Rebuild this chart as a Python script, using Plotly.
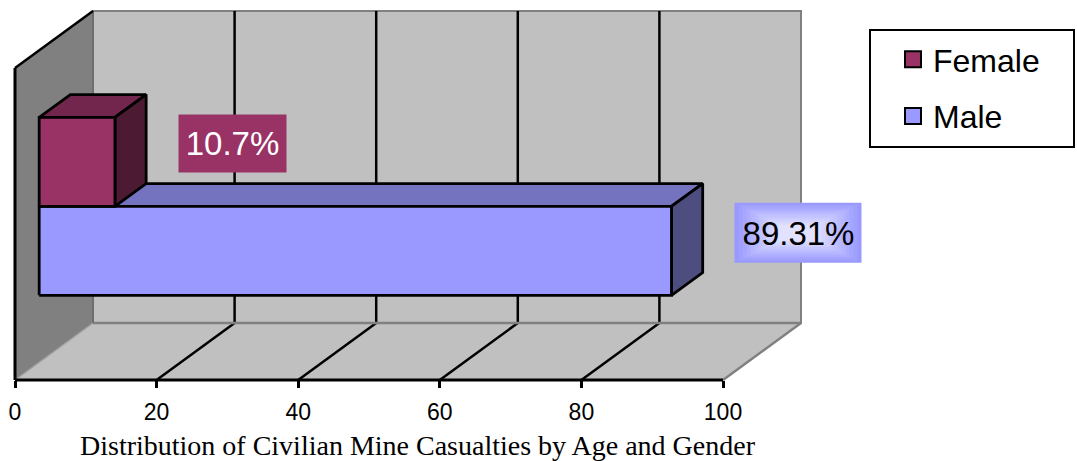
import plotly.graph_objects as go

# ---------------- data ----------------
categories = ["Female", "Male"]
values = [10.7, 89.31]
value_labels = ["10.7%", "89.31%"]
tick_values = [0, 20, 40, 60, 80, 100]
tick_labels = ["0", "20", "40", "60", "80", "100"]
title_text = "Distribution of Civilian Mine Casualties by Age and Gender"

# ---------------- styling / geometry ----------------
front_colors = {"Female": "#993366", "Male": "#9999FF"}
top_colors = {"Female": "#73264D", "Male": "#7373BF"}
side_colors = {"Female": "#4D1A33", "Male": "#4D4D80"}

W, H = 1077, 461
AX0, AX1 = 15, 723          # pixel of value 0 and value 100 on the front axis
BASE_PX = 380               # pixel row of the front floor edge
VMAX = 100
SCALE = (AX1 - AX0) / VMAX  # px per value unit
x_lo = -AX0 / SCALE
x_hi = x_lo + W / SCALE
y_lo = -(H - BASE_PX)
y_hi = BASE_PX
WALL_H = 312
DEPTH_DX = 78 / SCALE
DEPTH_DY = 57
D0, D1 = 0.31, 0.71
BAR_T = 89
CENTER = WALL_H / 2


def P(v, y, d):
    return (v + d * DEPTH_DX, y + d * DEPTH_DY)


def closed(pts):
    xs = [p[0] for p in pts] + [pts[0][0]]
    ys = [p[1] for p in pts] + [pts[0][1]]
    return xs, ys


fig = go.Figure()


def add_poly(pts, fill, line_color=None, line_width=0):
    xs, ys = closed(pts)
    fig.add_trace(go.Scatter(
        x=xs, y=ys, mode="lines", fill="toself", fillcolor=fill,
        line=dict(color=line_color or fill, width=line_width),
        showlegend=False, hoverinfo="skip"))


def add_line(p, q, color, width):
    fig.add_trace(go.Scatter(
        x=[p[0], q[0]], y=[p[1], q[1]], mode="lines",
        line=dict(color=color, width=width),
        showlegend=False, hoverinfo="skip"))


vmin, vmax = tick_values[0], tick_values[-1]

# back wall
add_poly([P(vmin, 0, 1), P(vmax, 0, 1), P(vmax, WALL_H, 1), P(vmin, WALL_H, 1)],
         "#C0C0C0", "#808080", 2)
# floor
add_poly([P(vmin, 0, 0), P(vmax, 0, 0), P(vmax, 0, 1), P(vmin, 0, 1)], "#C0C0C0")
# left wall
add_poly([P(vmin, 0, 0), P(vmin, WALL_H, 0), P(vmin, WALL_H, 1), P(vmin, 0, 1)], "#808080")

# gridlines
for t in tick_values[1:-1]:
    add_line(P(t, 0, 1), P(t, WALL_H, 1), "black", 2.5)
    add_line(P(t, 0, 0), P(t, 0, 1), "black", 2.5)

# edges
add_line(P(vmin, 0, 1), P(vmax, 0, 1), "#808080", 2.5)
add_line(P(vmin, 0, 1), P(vmin, WALL_H, 1), "#6E6E6E", 2)
add_line(P(vmax, 0, 0), P(vmax, 0, 1), "#808080", 2.5)
add_line(P(vmin, 0, 0), P(vmin, 0, 1), "#A0A0A0", 1.5)
add_line(P(vmin, WALL_H, 0), P(vmin, WALL_H, 1), "black", 2.5)
add_line(P(vmin, 0, 0), P(vmin, WALL_H, 0), "black", 3)
add_line(P(vmin, 0, 0), P(vmax, 0, 0), "black", 3)

# bars (draw lower bar first)
bar_rows = {}
for i, cat in enumerate(categories):
    if i == 0:
        yb, yt = CENTER, CENTER + BAR_T
    else:
        yb, yt = CENTER - BAR_T, CENTER
    bar_rows[cat] = (yb, yt)

for cat in reversed(categories):
    v = values[categories.index(cat)]
    yb, yt = bar_rows[cat]
    add_poly([P(0, yt, D0), P(v, yt, D0), P(v, yt, D1), P(0, yt, D1)],
             top_colors[cat], "black", 2.8)
    add_poly([P(v, yb, D0), P(v, yb, D1), P(v, yt, D1), P(v, yt, D0)],
             side_colors[cat], "black", 2.8)
    add_poly([P(0, yb, D0), P(v, yb, D0), P(v, yt, D0), P(0, yt, D0)],
             front_colors[cat], "black", 2.8)

# legend entries
for cat in categories:
    fig.add_trace(go.Scatter(
        x=[None], y=[None], mode="markers", name=cat, legendgroup=cat,
        marker=dict(symbol="square", size=16, color=front_colors[cat],
                    line=dict(color="black", width=2))))

# data labels
annotations = []
shapes = []
label_boxes = {"Female": (107, 57), "Male": (127, 60)}
for i, cat in enumerate(categories):
    v = values[i]
    yb, yt = bar_rows[cat]
    lx = v + D0 * DEPTH_DX + 63 / SCALE
    ly = (yb + yt) / 2 + D0 * DEPTH_DY + 18
    bw, bh = label_boxes[cat]
    if cat == "Male":
        n = 12
        c0 = (153, 153, 255)
        c1 = (226, 226, 255)
        for k in range(n):
            f = k / (n - 1)
            col = "rgb(%d,%d,%d)" % tuple(round(a + (b - a) * f) for a, b in zip(c0, c1))
            sx = k * 4.0
            sy = k * 2.0
            shapes.append(dict(
                type="rect", xref="x", yref="y", xsizemode="pixel", ysizemode="pixel",
                xanchor=lx, yanchor=ly, x0=sx, x1=bw - sx, y0=-bh / 2 + sy, y1=bh / 2 - sy,
                fillcolor=col, line=dict(width=0), layer="above"))
        annotations.append(dict(
            x=lx, y=ly, xref="x", yref="y", xanchor="left", yanchor="middle",
            text=value_labels[i], showarrow=False, width=bw, height=bh, borderpad=0,
            bgcolor="rgba(0,0,0,0)",
            font=dict(family="Liberation Sans, Arial", size=33, color="black")))
    else:
        annotations.append(dict(
            x=lx, y=ly, xref="x", yref="y", xanchor="left", yanchor="middle",
            text=value_labels[i], showarrow=False, width=bw, height=bh, borderpad=0,
            bgcolor=front_colors[cat],
            font=dict(family="Liberation Sans, Arial", size=33, color="white")))

annotations.append(dict(
    x=418 / W, y=(H - 445) / H, xref="paper", yref="paper",
    xanchor="center", yanchor="middle", text=title_text, showarrow=False,
    font=dict(family="Liberation Serif, Times New Roman", size=28, color="black")))

# legend frame
shapes.append(dict(type="rect", xref="paper", yref="paper",
                   x0=870 / W, x1=1074 / W, y0=1 - 147 / H, y1=1 - 30 / H,
                   line=dict(color="black", width=2), fillcolor="white", layer="above"))

fig.update_layout(
    width=W, height=H,
    margin=dict(l=0, r=0, t=0, b=0),
    paper_bgcolor="white", plot_bgcolor="white",
    showlegend=True,
    legend=dict(x=893 / W, y=1 - 32 / H, xanchor="left", yanchor="top",
                bgcolor="rgba(0,0,0,0)", borderwidth=0,
                font=dict(family="Liberation Sans, Arial", size=32, color="black"),
                tracegroupgap=12, itemsizing="trace"),
    xaxis=dict(range=[x_lo, x_hi], showgrid=False, zeroline=False, showline=False,
               anchor="free", position=(H - BASE_PX) / H,
               tickmode="array", tickvals=tick_values, ticktext=tick_labels,
               ticks="outside", ticklen=7, tickwidth=2.5, tickcolor="black",
               ticklabelstandoff=4,
               tickfont=dict(family="Liberation Sans, Arial", size=23, color="black"),
               fixedrange=True),
    yaxis=dict(range=[y_lo, y_hi], visible=False, fixedrange=True),
    annotations=annotations,
    shapes=shapes,
    hovermode=False,
)

fig.write_html("out.html", config={"displayModeBar": False},
               post_script="document.body.style.margin='0';document.body.style.overflow='hidden';")
